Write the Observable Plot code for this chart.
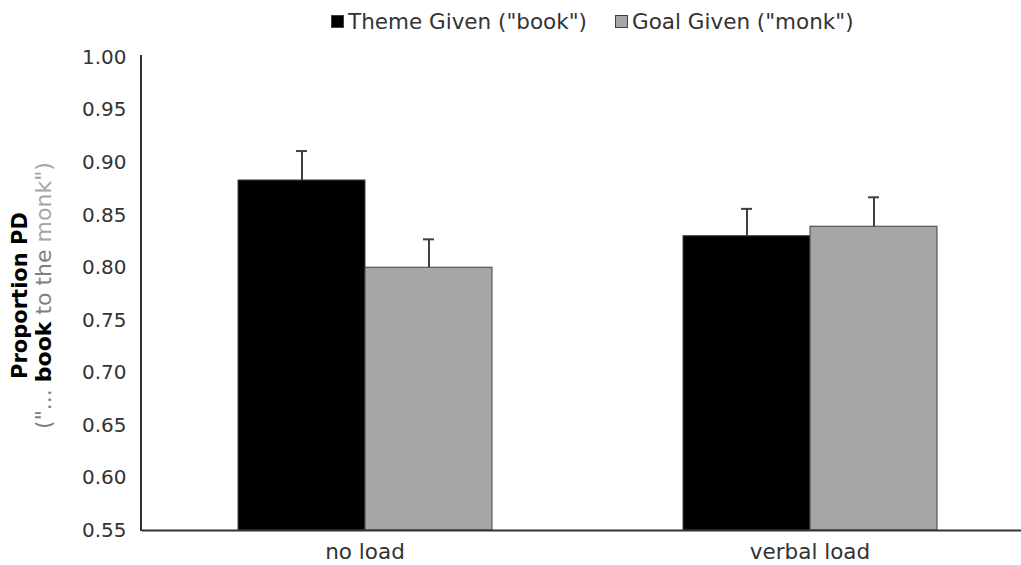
<!DOCTYPE html>
<html>
<head>
<meta charset="utf-8">
<script src="https://cdn.jsdelivr.net/npm/d3@7"></script>
<script src="https://cdn.jsdelivr.net/npm/@observablehq/plot@0.6"></script>
<style>
  body { margin: 0; background: #fff; font-family: "DejaVu Sans", Verdana, sans-serif; }
  #legend { position: relative; height: 40px; width: 1021px; font-size: 21.5px; color: #333; }
  .item { position: absolute; top: 9px; display: flex; align-items: center; white-space: nowrap; }
  .sw { width: 13px; height: 13px; margin-right: 4px; box-sizing: border-box; }
</style>
</head>
<body>
<div id="legend"></div>
<div id="chart"></div>
<script>
const groups = ["no load", "verbal load"];
const series = ["Theme Given (\"book\")", "Goal Given (\"monk\")"];
const colors = ["#000000", "#a6a6a6"];
const theme = [0.883, 0.830];
const goal = [0.800, 0.839];
const themeErr = [0.028, 0.026];
const goalErr = [0.027, 0.028];
const yTicks = [0.55, 0.60, 0.65, 0.70, 0.75, 0.80, 0.85, 0.90, 0.95, 1.00];

const data = [];
groups.forEach((g, i) => {
  data.push({group: g, series: series[0], value: theme[i], err: themeErr[i]});
  data.push({group: g, series: series[1], value: goal[i], err: goalErr[i]});
});

// legend
const legend = document.getElementById("legend");
const legendX = [331, 615];
series.forEach((s, i) => {
  const it = document.createElement("div");
  it.className = "item";
  it.style.left = legendX[i] + "px";
  const sw = document.createElement("div");
  sw.className = "sw";
  sw.style.background = colors[i];
  sw.style.border = "1px solid #404040";
  it.appendChild(sw);
  const t = document.createElement("span");
  t.textContent = s;
  it.appendChild(t);
  legend.appendChild(it);
});

const chart = Plot.plot({
  width: 1021,
  height: 525,
  marginLeft: 141,
  marginRight: -11,
  marginTop: 17,
  marginBottom: 35,
  style: {fontFamily: "DejaVu Sans, Verdana, sans-serif", fontSize: "20px", color: "#333", background: "#fff"},
  fx: {domain: groups, padding: 0, label: null, axis: null},
  x: {domain: series, paddingInner: 0, paddingOuter: 0.74, axis: null},
  y: {domain: [0.55, 1.0], label: null, axis: null},
  color: {domain: series, range: colors},
  marks: [
    Plot.barY(data, {fx: "group", x: "series", y1: 0.55, y2: "value", fill: "series", stroke: "#404040", strokeWidth: 1}),
    Plot.ruleX(data, {fx: "group", x: "series", y1: "value", y2: d => d.value + d.err, stroke: "#404040", strokeWidth: 2}),
    Plot.tickY(data, {fx: "group", x: "series", y: d => d.value + d.err, stroke: "#404040", strokeWidth: 2, insetLeft: 58, insetRight: 58}),
    Plot.ruleY([0.55], {stroke: "#333", strokeWidth: 2}),
    Plot.axisY({ticks: yTicks, tickFormat: d3.format(".2f"), tickSize: 0, tickPadding: 16, label: null, fontSize: 20}),
    Plot.axisFx({anchor: "bottom", tickSize: 0, tickPadding: 13, label: null, fontSize: 21.5})
  ]
});

document.getElementById("chart").appendChild(chart);

// y-axis domain line and two-line y label
const svg = d3.select(chart);
const y = chart.scale("y");
svg.append("line")
  .attr("x1", 141).attr("x2", 141)
  .attr("y1", y.apply(1.0) - 2).attr("y2", y.apply(0.55) + 1)
  .attr("stroke", "#333").attr("stroke-width", 2);

const cy = (y.apply(1.0) + y.apply(0.55)) / 2 + 2;
svg.append("text")
  .attr("transform", `translate(20,${cy}) rotate(-90)`)
  .attr("text-anchor", "middle").attr("dominant-baseline", "central")
  .attr("font-size", 21).attr("font-weight", "bold").attr("fill", "#000")
  .text("Proportion PD");
const l2 = svg.append("text")
  .attr("transform", `translate(43,${cy}) rotate(-90)`)
  .attr("text-anchor", "middle").attr("dominant-baseline", "central")
  .attr("font-size", 22);
l2.append("tspan").attr("fill", "#7f7f7f").text("(\"... ");
l2.append("tspan").attr("fill", "#000").attr("font-weight", "bold").text("book");
l2.append("tspan").attr("fill", "#7f7f7f").text(" to the ");
l2.append("tspan").attr("fill", "#a6a6a6").text("monk\")");
</script>
</body>
</html>
